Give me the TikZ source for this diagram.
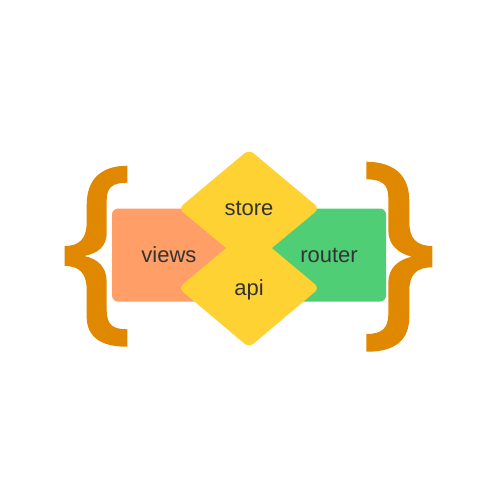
\documentclass[tikz,border=0pt]{standalone}
\usepackage{fontspec}
\setmainfont{Liberation Sans}
\definecolor{viewsc}{HTML}{FF9E66}
\definecolor{routerc}{HTML}{4FCE75}
\definecolor{diamc}{HTML}{FFD233}
\definecolor{bracec}{HTML}{E08800}
\definecolor{textc}{HTML}{333333}
\tikzset{
  blockbox/.style={fill=#1,draw=none,rounded corners=6pt},
  diam/.style={fill=diamc,draw=none,rounded corners=6pt},
  brc/.style={fill=bracec,draw=none},
  lbl/.style={text=textc,font=\fontsize{22}{26}\selectfont,inner sep=0pt,anchor=center}
}
\begin{document}
\begin{tikzpicture}[x=1pt,y=-1pt]
\useasboundingbox[fill=white] (0,0) rectangle (500,500);
\fill[blockbox=viewsc] (112,208.5) rectangle (240,301.5);
\fill[blockbox=routerc] (258,208.5) rectangle (386,301.5);
\fill[diam] (249,149.5) -- (319.5,208.5) -- (249,267) -- (178.5,208.5) -- cycle;
\fill[diam] (249,229) -- (319.5,288) -- (249,347.5) -- (178.5,288) -- cycle;
% left brace
\fill[brc] (127.3,165.7) .. controls (100,166) and (86.7,180) .. (86.7,205)
  -- (86.7,222) .. controls (86.7,238) and (80,246) .. (64.7,246)
  -- (64.7,266) .. controls (80,266) and (86.7,274) .. (86.7,290)
  -- (86.7,317) .. controls (86.7,336) and (100,347) .. (127.3,346.7)
  -- (127.3,329.3) .. controls (113,329.3) and (106.7,325) .. (106.7,310)
  -- (106.7,282) .. controls (106.7,267) and (98,259) .. (84.3,256)
  .. controls (98,253) and (106.7,247) .. (106.7,232)
  -- (106.7,200) .. controls (106.7,187) and (113,182.7) .. (127.3,182.7) -- cycle;
% right brace
\fill[brc] (366.3,161.7) .. controls (395,162) and (409.3,176) .. (409.3,201)
  -- (409.3,222) .. controls (409.3,238) and (416,246) .. (432.3,246)
  -- (432.3,267.3) .. controls (416,267.3) and (409.3,275) .. (409.3,291)
  -- (409.3,317) .. controls (409.3,340) and (395,352) .. (366.3,351.7)
  -- (366.3,334) .. controls (381,334) and (388.3,329) .. (388.3,314)
  -- (388.3,283) .. controls (388.3,268) and (398,260) .. (411.7,256.7)
  .. controls (398,253) and (388.3,245) .. (388.3,230)
  -- (388.3,197) .. controls (388.3,184) and (381,179.3) .. (366.3,179.3) -- cycle;
\node[lbl,anchor=base] (views) at (169,262.2) {views};
\node[lbl,anchor=base] (router) at (329,262.2) {router};
\node[lbl,anchor=base] (store) at (249,215.2) {store};
\node[lbl,anchor=base] (api) at (249,295.2) {api};
\end{tikzpicture}
\end{document}
